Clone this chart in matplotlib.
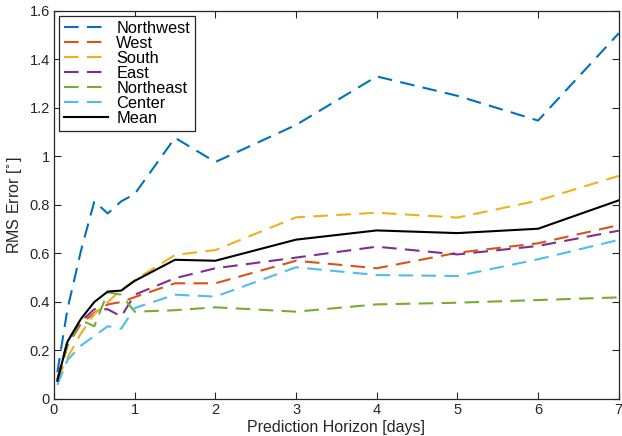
import matplotlib
matplotlib.use('Agg')
import matplotlib.pyplot as plt
from matplotlib.ticker import FuncFormatter

plt.rcParams['font.family'] = ['Liberation Sans', 'DejaVu Sans']

# prediction horizon in days
horizon = [1/24, 1/6, 1/3, 1/2, 2/3, 5/6, 1, 1.5, 2, 3, 4, 5, 6, 7]

northwest = [0.11, 0.37, 0.61, 0.815, 0.765, 0.815, 0.845, 1.077, 0.977, 1.13, 1.33, 1.25, 1.148, 1.508]
west = [0.08, 0.22, 0.31, 0.355, 0.39, 0.40, 0.42, 0.477, 0.477, 0.570, 0.539, 0.603, 0.642, 0.717]
south = [0.08, 0.17, 0.27, 0.35, 0.40, 0.45, 0.49, 0.594, 0.614, 0.749, 0.768, 0.748, 0.818, 0.92]
east = [0.08, 0.24, 0.32, 0.37, 0.37, 0.34, 0.43, 0.498, 0.539, 0.583, 0.628, 0.596, 0.631, 0.694]
northeast = [0.08, 0.22, 0.325, 0.30, 0.44, 0.43, 0.36, 0.366, 0.378, 0.36, 0.39, 0.397, 0.408, 0.419]
center = [0.058, 0.16, 0.22, 0.26, 0.30, 0.29, 0.375, 0.43, 0.422, 0.543, 0.511, 0.507, 0.576, 0.656]
mean = [0.075, 0.236, 0.33, 0.40, 0.443, 0.447, 0.487, 0.574, 0.57, 0.657, 0.695, 0.684, 0.702, 0.819]

regions = ['Northwest', 'West', 'South', 'East', 'Northeast', 'Center']
region_data = [northwest, west, south, east, northeast, center]
colors = ['#0072BD', '#D95319', '#EDB120', '#7E2F8E', '#77AC30', '#4DBEEE']

axcol = '#262626'

fig = plt.figure(figsize=(6.22, 4.36), dpi=100)
ax = fig.add_axes([0.0868, 0.0849, 0.908, 0.890])

for name, vals, c in zip(regions, region_data, colors):
    ax.plot(horizon, vals, color=c, lw=1.5, dashes=(7, 4), label=name)
ax.plot(horizon, mean, color='black', lw=1.5, label='Mean')

ax.set_xlim(0, 7)
ax.set_ylim(0, 1.6)
ax.set_xticks(range(8))
ax.set_yticks([0, 0.2, 0.4, 0.6, 0.8, 1.0, 1.2, 1.4, 1.6])
ax.yaxis.set_major_formatter(FuncFormatter(lambda v, p: '%g' % round(v, 1)))
ax.tick_params(direction='in', top=True, right=True, length=5, width=0.8,
               colors=axcol, labelsize=10.5, pad=3)
for s in ax.spines.values():
    s.set_color(axcol)
    s.set_linewidth(0.9)

ax.set_xlabel('Prediction Horizon [days]', fontsize=11.5, color=axcol, labelpad=2)
ax.set_ylabel(r'RMS Error [$^{\circ}$]', fontsize=11.5, color=axcol, labelpad=4)

leg = ax.legend(loc='upper left', fontsize=11.8, handlelength=2.7, labelspacing=0.0,
                borderaxespad=0.3, borderpad=0.3, handletextpad=0.5, fancybox=False,
                framealpha=1, edgecolor=axcol)
leg.get_frame().set_linewidth(0.9)

fig.savefig('out.png', dpi=100)
